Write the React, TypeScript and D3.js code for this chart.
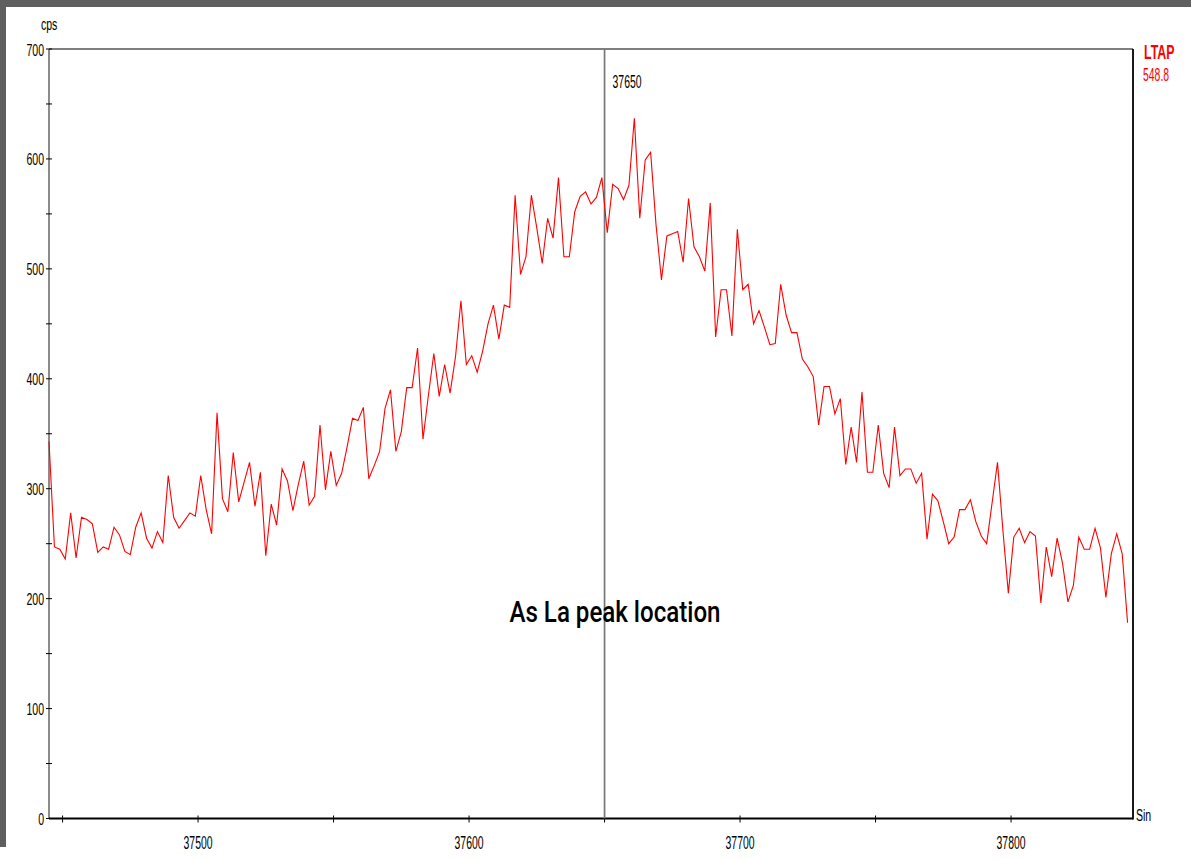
import { useEffect, useRef } from 'react';
import * as d3 from 'd3';

// Scan positions: first channel and step (sin theta units)
const START_POS = 37445;
const STEP = 2;

// LTAP counts per channel (cps)
const cps = [
  343, 247, 245, 236, 278, 237, 274, 272, 268, 242,
  247, 245, 265, 258, 243, 240, 265, 278, 255, 246,
  261, 251, 312, 274, 264, 271, 278, 275, 312, 281,
  259, 369, 291, 279, 333, 288, 306, 324, 284, 315,
  239, 286, 267, 318, 307, 280, 304, 325, 285, 293,
  358, 299, 334, 303, 314, 338, 364, 362, 374, 309,
  321, 334, 373, 390, 334, 352, 392, 392, 428, 345,
  385, 423, 384, 413, 387, 420, 471, 413, 421, 406,
  425, 450, 467, 436, 467, 465, 567, 495, 511, 567,
  537, 505, 546, 528, 583, 511, 511, 552, 566, 570,
  559, 565, 583, 533, 577, 573, 563, 576, 637, 546,
  599, 606, 540, 490, 530, 532, 534, 506, 564, 520,
  511, 498, 560, 438, 481, 481, 439, 536, 481, 486,
  450, 462, 447, 431, 432, 486, 458, 442, 442, 418,
  411, 402, 358, 393, 393, 368, 382, 322, 356, 324,
  388, 315, 315, 358, 314, 301, 356, 312, 318, 318,
  305, 314, 254, 295, 289, 270, 250, 256, 281, 281,
  290, 270, 257, 250, 287, 324, 262, 205, 256, 264,
  251, 261, 257, 196, 247, 220, 255, 232, 197, 212,
  256, 245, 245, 264, 246, 201, 241, 259, 241, 178,
];

const xMajorTicks = [37500, 37600, 37700, 37800];
const xMinorTicks = [37450, 37550, 37650, 37750];
const yMajorTicks = [0, 100, 200, 300, 400, 500, 600, 700];
const yMinorTicks = [50, 150, 250, 350, 450, 550, 650];

const cursorPos = 37650;
const elementName = 'LTAP';
const cursorValue = '548.8';
const note = 'As La peak location';

export default function App() {
  const svgRef = useRef<SVGSVGElement>(null);

  useEffect(() => {
    if (!svgRef.current) return;
    const width = 1191;
    const height = 859;
    const plot = { left: 49, right: 1133, top: 49, bottom: 818.5 };

    const svg = d3.select(svgRef.current);
    svg.selectAll('*').remove();

    const xScale = d3.scaleLinear().domain([37445, 37845]).range([plot.left, plot.right]);
    const yScale = d3.scaleLinear().domain([0, 700]).range([plot.bottom, plot.top]);

    const font = "'Liberation Sans', Arial, sans-serif";

    // narrow text helper (the source uses a condensed system font)
    const narrowText = (x: number, y: number, str: string, size: number, sx: number, anchor: string, fill = '#000', weight = 'normal') => {
      svg.append('g')
        .attr('transform', `translate(${x},${y}) scale(${sx},1)`)
        .append('text')
        .attr('text-anchor', anchor)
        .attr('font-family', font)
        .attr('font-size', size)
        .attr('font-weight', weight)
        .attr('fill', fill)
        .text(str);
    };

    // background + window frame
    svg.append('rect').attr('width', width).attr('height', height).attr('fill', '#fff');
    svg.append('rect').attr('x', 0).attr('y', 0).attr('width', width).attr('height', 7).attr('fill', '#5f5f5f');
    svg.append('rect').attr('x', 0).attr('y', 0).attr('width', 6).attr('height', 847).attr('fill', '#5f5f5f');

    // frame lines
    svg.append('line')
      .attr('x1', plot.left).attr('x2', plot.right)
      .attr('y1', plot.top).attr('y2', plot.top)
      .attr('stroke', '#555').attr('stroke-width', 1.6);
    svg.append('line')
      .attr('x1', plot.left).attr('x2', plot.left)
      .attr('y1', plot.top).attr('y2', plot.bottom)
      .attr('stroke', '#666').attr('stroke-width', 1.5);
    svg.append('line')
      .attr('x1', plot.right).attr('x2', plot.right)
      .attr('y1', plot.top).attr('y2', plot.bottom + 1)
      .attr('stroke', '#000').attr('stroke-width', 1.8);
    svg.append('line')
      .attr('x1', plot.left).attr('x2', plot.right)
      .attr('y1', plot.bottom).attr('y2', plot.bottom)
      .attr('stroke', '#000').attr('stroke-width', 1.8);

    // y ticks
    svg.selectAll('.ytick')
      .data([...yMajorTicks, ...yMinorTicks])
      .enter()
      .append('line')
      .attr('x1', plot.left - 3).attr('x2', plot.left + 3)
      .attr('y1', d => yScale(d)).attr('y2', d => yScale(d))
      .attr('stroke', '#000').attr('stroke-width', 1);
    yMajorTicks.forEach(t => narrowText(plot.left - 5, yScale(t) + 6.5, String(t), 17, 0.62, 'end'));

    // x ticks
    svg.selectAll('.xtick')
      .data([...xMajorTicks, ...xMinorTicks])
      .enter()
      .append('line')
      .attr('x1', d => xScale(d)).attr('x2', d => xScale(d))
      .attr('y1', plot.bottom - 3).attr('y2', plot.bottom + 4)
      .attr('stroke', '#000').attr('stroke-width', 1);
    xMajorTicks.forEach(t => narrowText(xScale(t), 849, String(t), 18, 0.58, 'middle'));

    // cursor line
    svg.append('line')
      .attr('x1', xScale(cursorPos)).attr('x2', xScale(cursorPos))
      .attr('y1', plot.top).attr('y2', plot.bottom)
      .attr('stroke', '#777').attr('stroke-width', 1.7);
    narrowText(xScale(cursorPos) + 8, 88, String(cursorPos), 18, 0.58, 'start');

    // spectrum trace
    const line = d3.line<number>()
      .x((d, i) => xScale(START_POS + i * STEP))
      .y(d => yScale(d));
    svg.append('path')
      .datum(cps)
      .attr('d', line)
      .attr('fill', 'none')
      .attr('stroke', '#ff0000')
      .attr('stroke-width', 1.1)
      .attr('stroke-linejoin', 'miter');

    // labels
    narrowText(41, 30, 'cps', 17, 0.62, 'start');
    narrowText(1136, 821, 'Sin', 17, 0.62, 'start');
    narrowText(1144, 59, elementName, 20, 0.62, 'start', '#ff0000', 'bold');
    narrowText(1143, 81, cursorValue, 18, 0.58, 'start', '#ff0000');

    // annotation
    svg.append('text')
      .attr('x', 615)
      .attr('y', 622)
      .attr('text-anchor', 'middle')
      .attr('font-family', 'Roboto, sans-serif')
      .attr('font-size', 29)
      .attr('font-weight', 500)
      .attr('textLength', 211)
      .attr('lengthAdjust', 'spacingAndGlyphs')
      .attr('fill', '#000')
      .text(note);
  }, []);

  return (
    <svg
      ref={svgRef}
      width={1191}
      height={859}
      style={{ position: 'absolute', left: 0, top: 0 }}
      viewBox="0 0 1191 859"
    />
  );
}
